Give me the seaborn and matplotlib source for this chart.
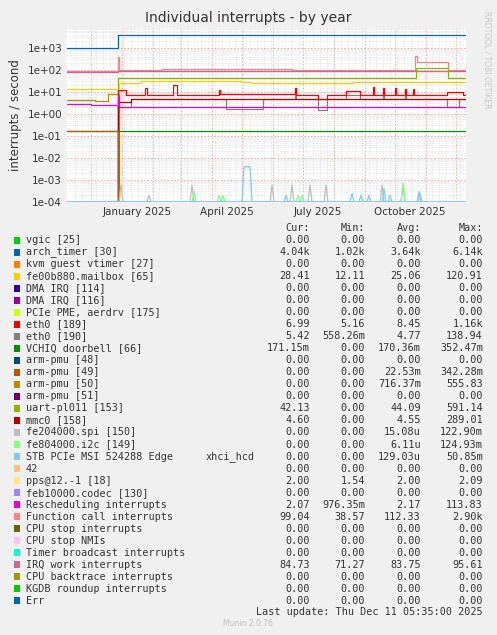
import pandas as pd
import numpy as np
import matplotlib.pyplot as plt
import matplotlib.dates as mdates
import seaborn as sns

sns.set_style('white')
plt.rcParams['font.family'] = ['DejaVu Sans']

# --- series data (date, value) as step points ---
arch_timer_dates = ['2024-11-07', '2024-12-27', '2024-12-28', '2025-12-11']
arch_timer_vals = [1000, 1000, 4040, 4040]

func_call_dates = ['2024-11-07', '2024-12-01', '2024-12-27', '2024-12-28', '2024-12-29', '2025-02-10', '2025-06-20',
                   '2025-10-19', '2025-10-21', '2025-10-23', '2025-11-21', '2025-11-23', '2025-12-11']
func_call_vals = [90, 85, 90, 380, 100, 105, 100, 100, 450, 220, 220, 95, 95]

irq_work_dates = ['2024-11-07', '2024-12-28', '2025-12-11']
irq_work_vals = [80, 85, 85]

uart_dates = ['2024-11-07', '2024-12-27', '2024-12-28', '2025-10-20', '2025-10-22', '2025-11-22', '2025-11-23', '2025-12-11']
uart_vals = [0, 0, 42, 42, 120, 120, 42, 42]

mailbox_dates = ['2024-11-07', '2024-12-27', '2024-12-29', '2025-01-20', '2025-05-01', '2025-05-10', '2025-08-20',
                 '2025-10-01', '2025-11-22', '2025-12-11']
mailbox_vals = [13, 13, 25, 30, 28, 25, 28, 28, 27, 28]

pmu50_dates = ['2024-11-07', '2024-12-05', '2024-12-18', '2024-12-28', '2024-12-29', '2025-12-11']
pmu50_vals = [4.5, 3.8, 8.0, 8.0, 0, 0]

eth189_dates = ['2024-11-07', '2024-12-27', '2024-12-28', '2025-01-05', '2025-01-24', '2025-01-26', '2025-02-21',
                '2025-02-22', '2025-02-25', '2025-04-08', '2025-04-09', '2025-06-23', '2025-06-24', '2025-07-16',
                '2025-07-25', '2025-08-13', '2025-08-27', '2025-09-09', '2025-09-10', '2025-09-19', '2025-09-20',
                '2025-10-01', '2025-10-02', '2025-10-11', '2025-10-12', '2025-10-19', '2025-10-20', '2025-11-22',
                '2025-12-08', '2025-12-11']
eth189_vals = [0, 0, 12, 7, 15, 7, 20, 20, 7, 12, 8, 15, 7, 5, 7, 11, 7, 16, 7, 15, 7, 15, 7, 14, 7, 14, 7, 10, 7, 7]

eth190_dates = ['2024-11-07', '2024-12-27', '2024-12-28', '2025-01-10', '2025-04-15', '2025-05-22', '2025-06-23',
                '2025-06-24', '2025-07-16', '2025-07-25', '2025-08-13', '2025-08-27', '2025-09-19', '2025-09-20',
                '2025-10-11', '2025-10-12', '2025-11-22', '2025-12-04', '2025-12-11']
eth190_vals = [0, 0, 2.0, 5, 1.6, 5, 15, 5, 1.5, 5, 7, 5, 15, 5, 12, 5, 2, 5, 5]

mmc0_dates = ['2024-11-07', '2024-12-27', '2024-12-28', '2025-01-10', '2025-12-11']
mmc0_vals = [0, 0, 3.5, 4.6, 4.6]

resched_dates = ['2024-11-07', '2024-12-01', '2024-12-27', '2024-12-28', '2024-12-29', '2025-12-11']
resched_vals = [2.8, 2.5, 2.5, 6, 2.0, 2.0]

vchiq_dates = ['2024-11-07', '2025-12-11']
vchiq_vals = [0.171, 0.171]

pmu49_dates = ['2024-11-07', '2024-12-27', '2024-12-28', '2025-12-11']
pmu49_vals = [0.17, 0.17, 0, 0]

# small spikes near the floor: (date, peak)
spi_spikes = [('2024-12-31', 6e-4), ('2025-01-28', 2e-4), ('2025-03-12', 6e-4), ('2025-05-31', 6e-4),
              ('2025-06-20', 6e-4), ('2025-07-08', 6e-4), ('2025-07-24', 6e-4), ('2025-09-18', 6e-4),
              ('2025-10-09', 6e-4), ('2025-10-26', 2.5e-4)]
i2c_spikes = [('2025-03-14', 3e-4), ('2025-04-08', 2e-4), ('2025-04-12', 2e-4), ('2025-06-26', 2e-4),
              ('2025-06-30', 2e-4), ('2025-10-09', 7e-4)]
pcie_spikes = [('2025-06-14', 2e-4), ('2025-08-19', 2.5e-4), ('2025-08-28', 2e-4), ('2025-09-05', 2e-4),
               ('2025-09-20', 4e-4), ('2025-09-26', 2e-4), ('2025-10-25', 3e-4)]
pcie_block = (['2025-05-01', '2025-05-03', '2025-05-09', '2025-05-11'], [1e-4, 4e-3, 4e-3, 1e-4])

series = [
    (arch_timer_dates, arch_timer_vals, '#0066b3'),
    (func_call_dates, func_call_vals, '#ff8080'),
    (irq_work_dates, irq_work_vals, '#cc6699'),
    (uart_dates, uart_vals, '#8fb300'),
    (mailbox_dates, mailbox_vals, '#ffcc00'),
    (pmu50_dates, pmu50_vals, '#b38f00'),
    (eth190_dates, eth190_vals, '#808080'),
    (eth189_dates, eth189_vals, '#ff0000'),
    (mmc0_dates, mmc0_vals, '#b30000'),
    (resched_dates, resched_vals, '#ee00cc'),
    (vchiq_dates, vchiq_vals, '#008f00'),
    (pmu49_dates, pmu49_vals, '#b35a00'),
]

legend_rows = [
    ('vgic [25]', '', '0.00', '0.00', '0.00', '0.00', '#00cc00'),
    ('arch_timer [30]', '', '4.04k', '1.02k', '3.64k', '6.14k', '#0066b3'),
    ('kvm guest vtimer [27]', '', '0.00', '0.00', '0.00', '0.00', '#ff8000'),
    ('fe00b880.mailbox [65]', '', '28.41', '12.11', '25.06', '120.91', '#ffcc00'),
    ('DMA IRQ [114]', '', '0.00', '0.00', '0.00', '0.00', '#330099'),
    ('DMA IRQ [116]', '', '0.00', '0.00', '0.00', '0.00', '#990099'),
    ('PCIe PME, aerdrv [175]', '', '0.00', '0.00', '0.00', '0.00', '#ccff00'),
    ('eth0 [189]', '', '6.99', '5.16', '8.45', '1.16k', '#ff0000'),
    ('eth0 [190]', '', '5.42', '558.26m', '4.77', '138.94', '#808080'),
    ('VCHIQ doorbell [66]', '', '171.15m', '0.00', '170.36m', '352.47m', '#008f00'),
    ('arm-pmu [48]', '', '0.00', '0.00', '0.00', '0.00', '#00487d'),
    ('arm-pmu [49]', '', '0.00', '0.00', '22.53m', '342.28m', '#b35a00'),
    ('arm-pmu [50]', '', '0.00', '0.00', '716.37m', '555.83', '#b38f00'),
    ('arm-pmu [51]', '', '0.00', '0.00', '0.00', '0.00', '#6b006b'),
    ('uart-pl011 [153]', '', '42.13', '0.00', '44.09', '591.14', '#8fb300'),
    ('mmc0 [158]', '', '4.60', '0.00', '4.55', '289.01', '#b30000'),
    ('fe204000.spi [150]', '', '0.00', '0.00', '15.08u', '122.90m', '#bebebe'),
    ('fe804000.i2c [149]', '', '0.00', '0.00', '6.11u', '124.93m', '#80ff80'),
    ('STB PCIe MSI 524288 Edge', 'xhci_hcd', '0.00', '0.00', '129.03u', '50.85m', '#80c9ff'),
    ('42', '', '0.00', '0.00', '0.00', '0.00', '#ffc080'),
    ('pps@12.-1 [18]', '', '2.00', '1.54', '2.00', '2.09', '#ffe680'),
    ('feb10000.codec [130]', '', '0.00', '0.00', '0.00', '0.00', '#aa80ff'),
    ('Rescheduling interrupts', '', '2.07', '976.35m', '2.17', '113.83', '#ee00cc'),
    ('Function call interrupts', '', '99.04', '38.57', '112.33', '2.90k', '#ff8080'),
    ('CPU stop interrupts', '', '0.00', '0.00', '0.00', '0.00', '#666600'),
    ('CPU stop NMIs', '', '0.00', '0.00', '0.00', '0.00', '#ffbfff'),
    ('Timer broadcast interrupts', '', '0.00', '0.00', '0.00', '0.00', '#00ffcc'),
    ('IRQ work interrupts', '', '84.73', '71.27', '83.75', '95.61', '#cc6699'),
    ('CPU backtrace interrupts', '', '0.00', '0.00', '0.00', '0.00', '#999900'),
    ('KGDB roundup interrupts', '', '0.00', '0.00', '0.00', '0.00', '#00cc00'),
    ('Err', '', '0.00', '0.00', '0.00', '0.00', '#0066b3'),
]

W, H = 497, 635
fig = plt.figure(figsize=(W / 100, H / 100), dpi=100, facecolor='#f0f0f0')
ax = fig.add_axes([67 / W, 1 - 202 / H, (466 - 67) / W, (202 - 28) / H])
ax.set_facecolor('white')
ax.set_yscale('log')
ax.set_ylim(1e-4, 8e3)
start, end = pd.Timestamp('2024-11-07'), pd.Timestamp('2025-12-11')
ax.set_xlim(start, end)

# grid: fine dotted, monthly red dashed
for d in pd.date_range('2024-11-15', end, freq='7D'):
    ax.axvline(d, color='#dddddd', lw=0.5, ls=(0, (1, 1)), zorder=0)
for d in pd.date_range('2024-12-01', end, freq='MS'):
    ax.axvline(d, color='#f0a0a0', lw=0.6, ls=(0, (2, 2)), zorder=0)
for e in range(-4, 4):
    for m in range(2, 10):
        ax.axhline(m * 10.0 ** e, color='#dddddd', lw=0.5, ls=(0, (1, 1)), zorder=0)
    ax.axhline(10.0 ** e, color='#f0a0a0', lw=0.6, ls=(0, (2, 2)), zorder=0)

floor = 1e-4
for dates, vals, color in series:
    df = pd.DataFrame({'date': pd.to_datetime(dates), 'val': np.maximum(vals, floor)})
    sns.lineplot(data=df, x='date', y='val', ax=ax, color=color, lw=0.9,
                 drawstyle='steps-post', estimator=None, sort=False)

for spikes, color in [(spi_spikes, '#bebebe'), (i2c_spikes, '#80ff80'), (pcie_spikes, '#80c9ff')]:
    for d, peak in spikes:
        t = pd.Timestamp(d)
        df = pd.DataFrame({'date': [t - pd.Timedelta(days=2), t, t + pd.Timedelta(days=2)],
                           'val': [floor, peak, floor]})
        sns.lineplot(data=df, x='date', y='val', ax=ax, color=color, lw=0.9, estimator=None, sort=False)
df = pd.DataFrame({'date': pd.to_datetime(pcie_block[0]), 'val': pcie_block[1]})
sns.lineplot(data=df, x='date', y='val', ax=ax, color='#80c9ff', lw=0.9, estimator=None, sort=False)
ax.axhline(floor * 1.02, color='#80c9ff', lw=1.2)

ax.set_xlabel('')
ax.set_ylabel('interrupts / second', fontsize=8.5, color='#333333', labelpad=4)
ax.set_yticks([10.0 ** e for e in range(-4, 4)])
ax.set_yticklabels(['1e-04', '1e-03', '1e-02', '1e-01', '1e+00', '1e+01', '1e+02', '1e+03'])
ax.yaxis.set_minor_locator(plt.NullLocator())
ax.set_xticks(pd.to_datetime(['2025-01-16', '2025-04-16', '2025-07-16', '2025-10-16']))
ax.set_xticklabels(['January 2025', 'April 2025', 'July 2025', 'October 2025'])
ax.tick_params(labelsize=7.5, colors='#333333', length=0)
for s in ax.spines.values():
    s.set_visible(False)

fig.text(0.5, 1 - 18 / H, 'Individual interrupts - by year', ha='center', va='center', fontsize=10, color='#333333')
fig.text(487 / W, 1 - 60 / H, 'RRDTOOL / TOBI OETIKER', rotation=270, ha='center', va='center',
         fontsize=5.5, color='#c8c8c8')

mono = 'DejaVu Sans Mono'
fs = 7.3
y0 = 228
for x, lab in [(310, 'Cur:'), (365, 'Min:'), (421, 'Avg:'), (483, 'Max:')]:
    fig.text(x / W, 1 - y0 / H, lab, ha='right', va='center', family=mono, fontsize=fs, color='#333333')
for i, (name, extra, cur, mn, avg, mx, color) in enumerate(legend_rows):
    y = 1 - (240 + i * 12.03) / H
    fig.patches.append(plt.Rectangle((14 / W, y - 3.5 / H), 6 / W, 7 / H, transform=fig.transFigure,
                                     color=color, lw=0))
    fig.text(26 / W, y, name, ha='left', va='center', family=mono, fontsize=fs, color='#333333')
    if extra:
        fig.text(206 / W, y, extra, ha='left', va='center', family=mono, fontsize=fs, color='#333333')
    for x, v in [(310, cur), (365, mn), (421, avg), (483, mx)]:
        fig.text(x / W, y, v, ha='right', va='center', family=mono, fontsize=fs, color='#333333')
fig.text(483 / W, 1 - 612 / H, 'Last update: Thu Dec 11 05:35:00 2025', ha='right', va='center',
         family=mono, fontsize=fs, color='#333333')
fig.text(248 / W, 1 - 624 / H, 'Munin 2.0.76', ha='center', va='center', fontsize=5.5, color='#c0c0c0')

fig.savefig('out.png', dpi=100, facecolor=fig.get_facecolor())
